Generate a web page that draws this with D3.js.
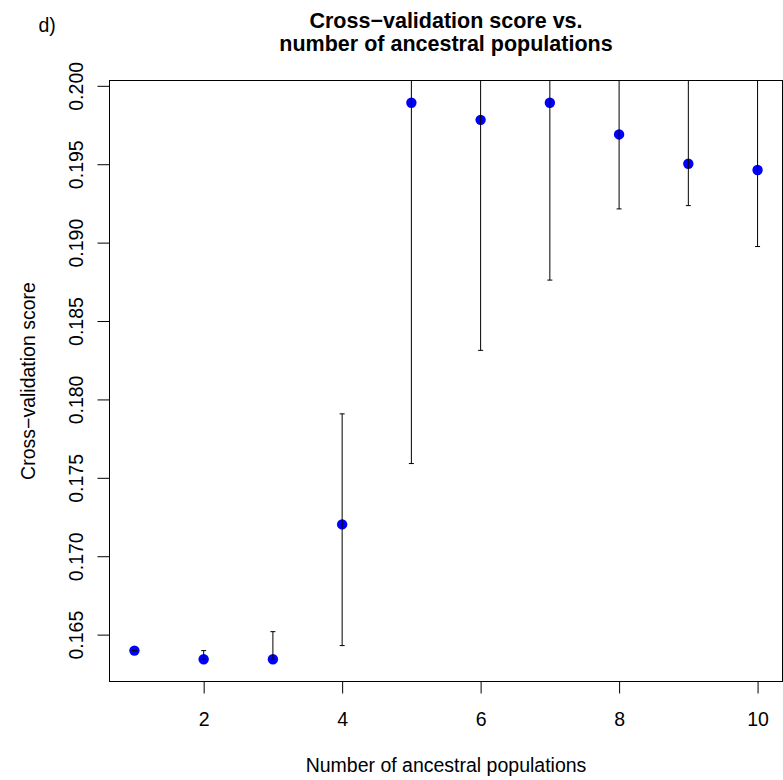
<!DOCTYPE html>
<html>
<head>
<meta charset="utf-8">
<script src="https://cdn.jsdelivr.net/npm/d3@7"></script>
<style>
  html, body { margin: 0; padding: 0; background: #fff; }
  svg { display: block; font-family: "Liberation Sans", Arial, sans-serif; }
</style>
</head>
<body>
<svg id="chart" width="783" height="780"></svg>
<script>
// Number of ancestral populations (K)
const kValues = [1, 2, 3, 4, 5, 6, 7, 8, 9, 10];
// Mean cross-validation score per K
const cvMean  = [0.16398, 0.16343, 0.16343, 0.17203, 0.19892, 0.19783, 0.19892, 0.19690, 0.19503, 0.19463];
// Lower and upper ends of the error bars
const cvLower = [0.16398, 0.16343, 0.16343, 0.16430, 0.17591, 0.18313, 0.18761, 0.19215, 0.19236, 0.18975];
const cvUpper = [0.16398, 0.16398, 0.16519, 0.17908, 0.22190, 0.21250, 0.21020, 0.20400, 0.20300, 0.20200];
// Axis ticks
const xTicks = [2, 4, 6, 8, 10];
const yTicks = [0.165, 0.170, 0.175, 0.180, 0.185, 0.190, 0.195, 0.200];
// Title lines
const titleLines = ["Cross\u2212validation score vs.", "number of ancestral populations"];

const svg = d3.select("#chart");
const plotL = 109.5, plotR = 782.5, plotT = 80.5, plotB = 681.5;

// Axis limits padded by 4% of the data range on each side
function padded(ext) {
  const r = ext[1] - ext[0];
  return [ext[0] - 0.04 * r, ext[1] + 0.04 * r];
}
const x = d3.scaleLinear().domain(padded(d3.extent(kValues))).range([plotL, plotR]);
const y = d3.scaleLinear().domain(padded(d3.extent(cvMean))).range([plotB, plotT]);

const data = kValues.map((k, i) => ({ k, mean: cvMean[i], lo: cvLower[i], hi: cvUpper[i] }));

svg.append("defs").append("clipPath").attr("id", "plotArea")
  .append("rect").attr("x", plotL).attr("y", plotT)
  .attr("width", plotR - plotL).attr("height", plotB - plotT);

const axisFont = "19.5px";

// X axis
const gx = svg.append("g").attr("transform", `translate(0,${plotB})`)
  .call(d3.axisBottom(x).tickValues(xTicks).tickSize(12).tickFormat(d3.format("d")));
gx.select(".domain").remove();
gx.selectAll(".tick line").attr("stroke", "#000");
gx.selectAll(".tick text").attr("fill", "#000").style("font-size", axisFont)
  .attr("y", 44.2).attr("dy", null);

// Y axis with rotated labels
const gy = svg.append("g").attr("transform", `translate(${plotL},0)`)
  .call(d3.axisLeft(y).tickValues(yTicks).tickSize(12).tickFormat(d3.format(".3f")));
gy.select(".domain").remove();
gy.selectAll(".tick line").attr("stroke", "#000");
gy.selectAll(".tick text").attr("fill", "#000").style("font-size", axisFont)
  .attr("transform", "rotate(-90)")
  .attr("x", 0).attr("y", -26.8).attr("dy", null)
  .attr("text-anchor", "middle");

// Points
svg.append("g").selectAll("circle").data(data).join("circle")
  .attr("cx", d => x(d.k)).attr("cy", d => y(d.mean))
  .attr("r", 5.2).attr("fill", "#0000ff");

// Error bars with flat caps, clipped to the plot region
const bars = svg.append("g").attr("clip-path", "url(#plotArea)")
  .attr("stroke", "#000").attr("stroke-width", 1);
const cap = 2.5;
bars.selectAll("line.stem").data(data).join("line").attr("class", "stem")
  .attr("x1", d => x(d.k)).attr("x2", d => x(d.k))
  .attr("y1", d => y(d.lo)).attr("y2", d => y(d.hi));
bars.selectAll("line.capLo").data(data).join("line").attr("class", "capLo")
  .attr("x1", d => x(d.k) - cap).attr("x2", d => x(d.k) + cap)
  .attr("y1", d => y(d.lo)).attr("y2", d => y(d.lo));
bars.selectAll("line.capHi").data(data).join("line").attr("class", "capHi")
  .attr("x1", d => x(d.k) - cap).attr("x2", d => x(d.k) + cap)
  .attr("y1", d => y(d.hi)).attr("y2", d => y(d.hi));

// Plot frame
svg.append("rect").attr("x", plotL).attr("y", plotT)
  .attr("width", plotR - plotL).attr("height", plotB - plotT)
  .attr("fill", "none").attr("stroke", "#000").attr("stroke-width", 1);

// Two-line bold title
const cx = (plotL + plotR) / 2;
svg.append("g").selectAll("text").data(titleLines).join("text")
  .attr("x", cx).attr("y", (d, i) => 28 + i * 23)
  .attr("text-anchor", "middle")
  .style("font-size", "21.5px").style("font-weight", "bold").attr("fill", "#000")
  .text(d => d);

svg.append("text").attr("x", cx).attr("y", 771.5).attr("text-anchor", "middle")
  .style("font-size", axisFont).attr("fill", "#000")
  .text("Number of ancestral populations");

svg.append("text").attr("transform", `translate(35,${(plotT + plotB) / 2}) rotate(-90)`)
  .attr("text-anchor", "middle").style("font-size", axisFont).attr("fill", "#000")
  .text("Cross\u2212validation score");

svg.append("text").attr("x", 38.5).attr("y", 32).style("font-size", axisFont)
  .attr("fill", "#000").text("d)");
</script>
</body>
</html>
